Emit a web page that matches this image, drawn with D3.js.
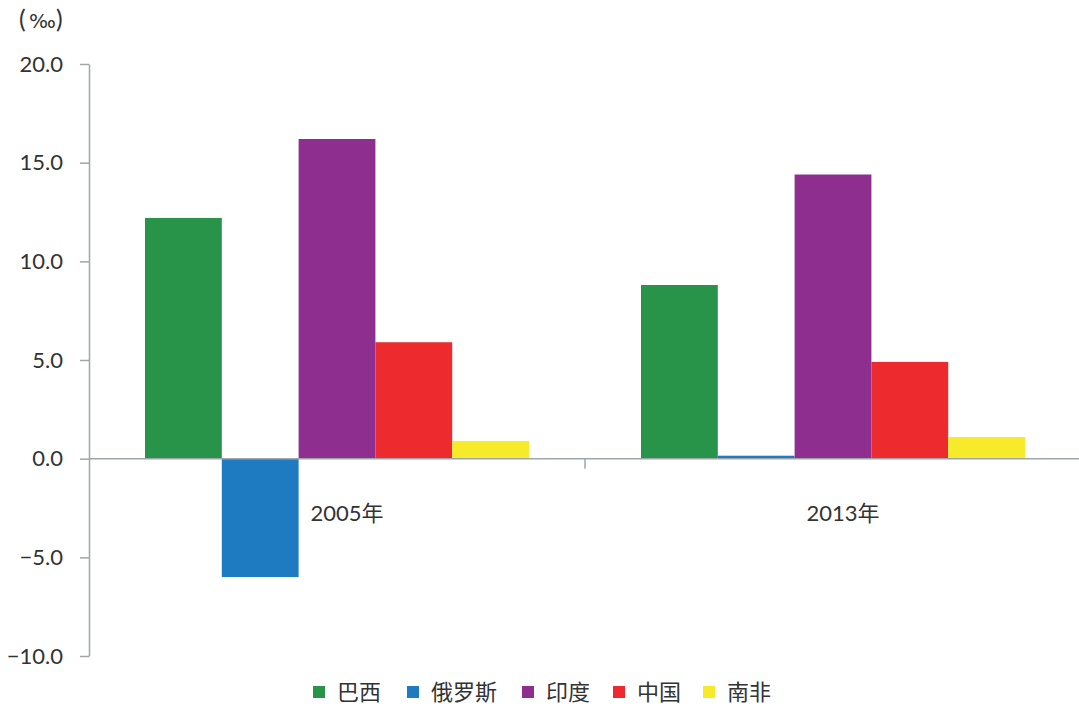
<!DOCTYPE html>
<html>
<head>
<meta charset="utf-8">
<script src="https://cdn.jsdelivr.net/npm/d3@7"></script>
<style>
  body { margin: 0; background: #fff; }
  text { font-family: Lato, "Noto Sans CJK SC", sans-serif; fill: #333; }
</style>
</head>
<body>
<div id="chart"></div>
<script>
const years = ["2005年", "2013年"];
const countries = ["巴西", "俄罗斯", "印度", "中国", "南非"];
const values = {
    "巴西":   [12.2, 8.8],
    "俄罗斯": [-6.0, 0.15],
    "印度":   [16.2, 14.4],
    "中国":   [5.9, 4.9],
    "南非":   [0.9, 1.1]
};
const colors = ["#27944a", "#1f7bc1", "#8e2f8f", "#ed2a2e", "#f7ea2a"];
const yTicks = [-10, -5, 0, 5, 10, 15, 20];

const W = 1079, H = 710;
const margin = { top: 64, right: -2, bottom: 54, left: 89 };

const svg = d3.select("#chart").append("svg")
    .attr("width", W)
    .attr("height", H);

const x = d3.scaleBand()
    .domain(years)
    .range([margin.left, W - margin.right]);

const xSub = d3.scaleBand()
    .domain(countries)
    .range([56, x.bandwidth() - 56]);

const y = d3.scaleLinear()
    .domain([-10, 20])
    .range([H - margin.bottom, margin.top]);

const color = d3.scaleOrdinal().domain(countries).range(colors);

const axisColor = "#a0a5ab";

// bars
const data = [];
years.forEach((yr, i) => {
    countries.forEach(c => data.push({ year: yr, country: c, value: values[c][i] }));
});

svg.selectAll(".bar")
    .data(data)
    .join("rect")
    .attr("class", "bar")
    .attr("x", d => x(d.year) + xSub(d.country))
    .attr("width", xSub.bandwidth())
    .attr("y", d => y(Math.max(0, d.value)))
    .attr("height", d => Math.abs(y(d.value) - y(0)))
    .attr("fill", d => color(d.country));

// y axis
const yAxis = svg.append("g")
    .attr("transform", `translate(${margin.left},0)`)
    .call(d3.axisLeft(y)
        .tickValues(yTicks)
        .tickFormat(d3.format(".1f"))
        .tickSize(9)
        .tickSizeOuter(0)
        .tickPadding(17));
yAxis.selectAll("path, line").attr("stroke", axisColor).attr("stroke-width", 1.5);
yAxis.selectAll("text")
    .style("font-size", "22px")
    .style("fill", "#333");

// x axis line at zero, with a tick between the groups
svg.append("line")
    .attr("x1", margin.left)
    .attr("x2", W)
    .attr("y1", y(0))
    .attr("y2", y(0))
    .attr("stroke", axisColor)
    .attr("stroke-width", 1.5);

svg.append("line")
    .attr("x1", x(years[1]))
    .attr("x2", x(years[1]))
    .attr("y1", y(0))
    .attr("y2", y(0) + 10)
    .attr("stroke", axisColor)
    .attr("stroke-width", 1.5);

svg.selectAll(".year-label")
    .data(years)
    .join("text")
    .attr("class", "year-label")
    .attr("x", d => x(d) + x.bandwidth() / 2 + 10)
    .attr("y", y(0) + 62)
    .attr("text-anchor", "middle")
    .style("font-size", "22px")
    .text(d => d);

// unit label
const unit = svg.append("text")
    .attr("y", 28)
    .style("font-size", "25px");
unit.append("tspan").attr("x", 19).text("(");
unit.append("tspan").attr("x", 29)
    .style("font-family", "'DejaVu Sans', sans-serif")
    .style("font-size", "20px")
    .text("‰");
unit.append("tspan").attr("x", 56).text(")");

// legend
const legendPos = [313, 407, 522, 613, 703];
const legend = svg.selectAll(".legend")
    .data(countries)
    .join("g")
    .attr("class", "legend")
    .attr("transform", (d, i) => `translate(${legendPos[i]},692)`);

legend.append("rect")
    .attr("x", 0)
    .attr("y", -6)
    .attr("width", 12)
    .attr("height", 12)
    .attr("fill", d => color(d));

legend.append("text")
    .attr("x", 24)
    .attr("y", 8)
    .style("font-size", "22px")
    .text(d => d);
</script>
</body>
</html>
